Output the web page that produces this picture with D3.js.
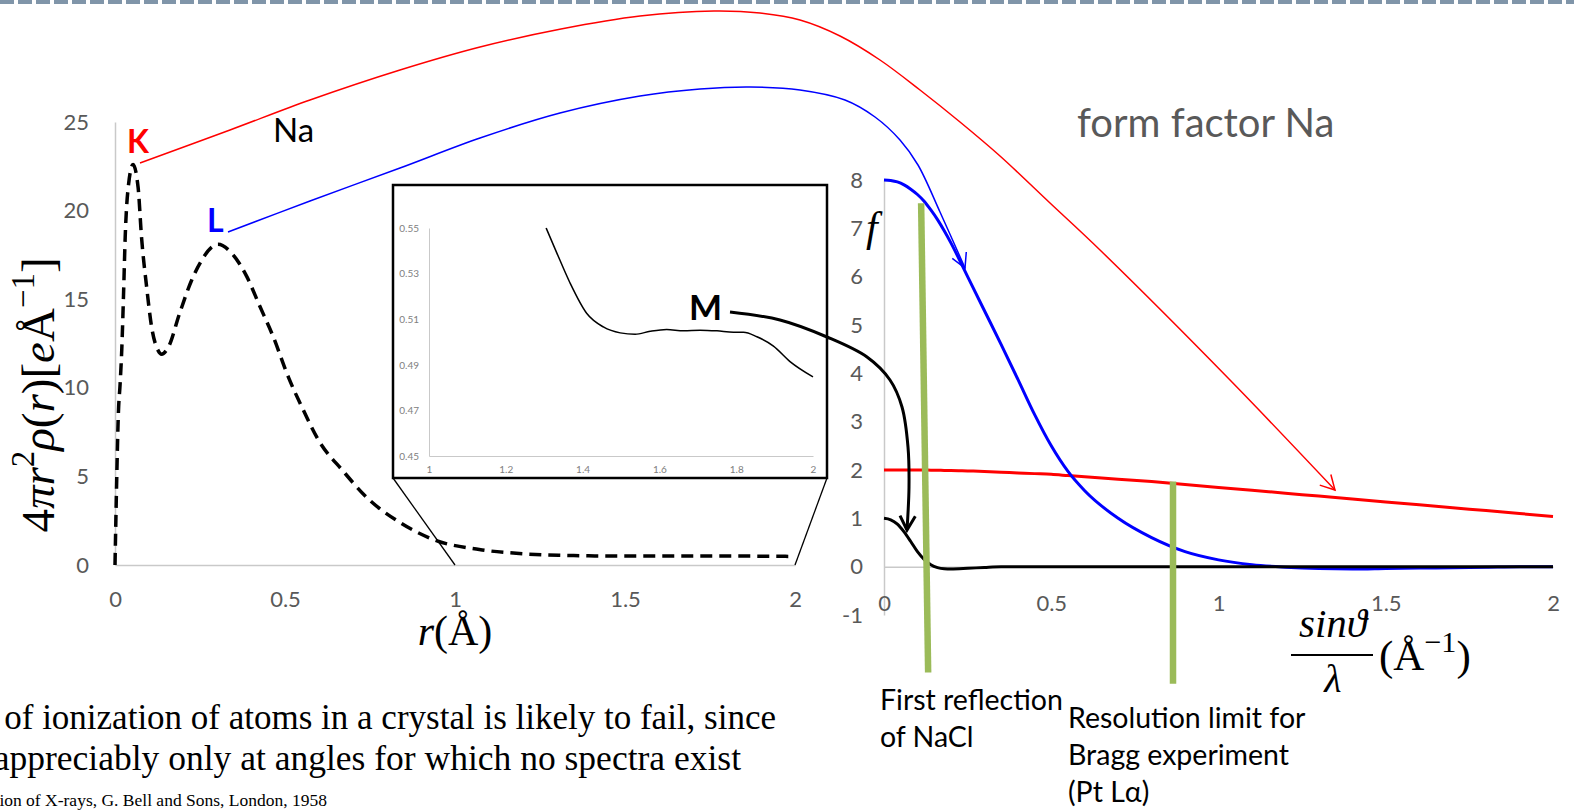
<!DOCTYPE html>
<html>
<head>
<meta charset="utf-8">
<script src="https://cdn.jsdelivr.net/npm/d3@7"></script>
<style>
  html, body { margin: 0; padding: 0; background: #fff; }
  svg { display: block; }
</style>
</head>
<body>
<svg id="chart" width="1574" height="812"></svg>
<script>
// ---------- data ----------
// Radial charge density of Na, 4πr²ρ(r) in e/Å, against r in Å
const radiusR = [0, 0.005, 0.01, 0.015, 0.02, 0.025, 0.03, 0.04, 0.053, 0.068, 0.078, 0.093, 0.108, 0.127,
  0.137, 0.157, 0.19, 0.226, 0.255, 0.289, 0.303, 0.343, 0.387, 0.426, 0.465, 0.51, 0.55, 0.6, 0.671,
  0.741, 0.838, 0.935, 1.08, 1.18, 1.305, 1.333, 1.367, 1.411, 1.454, 1.498, 1.537, 1.576, 1.619, 1.663,
  1.706, 1.75, 1.793, 1.819, 1.854, 1.897, 1.941, 2.0];
const radialDensity = [0, 4.8, 8.6, 10.2, 12.2, 15.2, 18.5, 21.5, 22.6, 21.3, 18.5, 15.7, 13.4, 12.1,
  11.9, 12.3, 14.2, 16.1, 17.2, 18.0, 18.1, 17.6, 16.3, 14.6, 12.9, 10.6, 8.9, 7.0, 5.3,
  3.8, 2.4, 1.45, 0.85, 0.66, 0.55, 0.539, 0.526, 0.5125, 0.5066, 0.504, 0.5034, 0.5047, 0.5055, 0.5049,
  0.5052, 0.5049, 0.5043, 0.5043, 0.5023, 0.4982, 0.4913, 0.4847];

// Shell contributions to the Na form factor against sinθ/λ (1/Å)
const sinThetaOverLambda = [0, 0.02, 0.04, 0.06, 0.08, 0.1, 0.12, 0.14, 0.16, 0.18, 0.2, 0.25, 0.3, 0.35,
  0.4, 0.45, 0.5, 0.55, 0.6, 0.7, 0.8, 0.9, 1.0, 1.1, 1.2, 1.3, 1.4, 1.5, 1.6, 1.7, 1.8, 1.9, 2.0];
const ffShellK = [2.0, 2.0, 2.0, 2.0, 2.0, 2.0, 2.0, 1.995, 1.995, 1.99, 1.99, 1.98, 1.97, 1.955,
  1.94, 1.925, 1.91, 1.885, 1.86, 1.81, 1.76, 1.70, 1.64, 1.58, 1.52, 1.46, 1.40, 1.34, 1.28, 1.22, 1.16, 1.10, 1.04];
const ffShellL = [8.0, 7.99, 7.96, 7.9, 7.81, 7.7, 7.56, 7.38, 7.18, 6.95, 6.7, 6.0, 5.3, 4.6,
  3.88, 3.15, 2.5, 1.97, 1.57, 1.0, 0.6, 0.31, 0.14, 0.04, -0.01, -0.04, -0.05, -0.04, -0.03, -0.02, -0.01, 0, 0];
const ffShellM = [1.0, 0.97, 0.88, 0.72, 0.52, 0.31, 0.15, 0.04, -0.02, -0.045, -0.05, -0.035, -0.015, 0,
  0, 0, 0, 0, 0, 0, 0, 0, 0, 0, 0, 0, 0, 0, 0, 0, 0, 0, 0];

// Reference positions in sinθ/λ: first NaCl reflection and the Pt Lα resolution limit
const markerSinTop = [0.111, 0.864];
const markerSinBottom = [0.132, 0.864];
const markerFTop = [7.52, 1.76];
const markerFBottom = [-2.19, -2.42];
const markerLabels = [["First reflection", "of NaCl"], ["Resolution limit for", "Bragg experiment", "(Pt Lα)"]];

// Tick labels
const densityTicksY = [0, 5, 10, 15, 20, 25];
const densityTicksX = [0, 0.5, 1, 1.5, 2];
const insetTicksY = [0.45, 0.47, 0.49, 0.51, 0.53, 0.55];
const insetTicksX = [1, 1.2, 1.4, 1.6, 1.8, 2];
const ffTicksY = [-1, 0, 1, 2, 3, 4, 5, 6, 7, 8];
const ffTicksX = [0, 0.5, 1, 1.5, 2];

const quoteLines = [
  "of ionization of atoms in a crystal is likely to fail, since",
  "appreciably only at angles for which no spectra exist",
  "Diffraction of X-rays, G. Bell and Sons, London, 1958"
];

// ---------- layout ----------
const svg = d3.select("#chart");
const SANS = "Lato, 'Open Sans', sans-serif";
const SERIF = "'Liberation Serif', 'DejaVu Serif', serif";
const AXIS_GREY = "#c9c9c9";
const LABEL_GREY = "#595959";

const xR = d3.scaleLinear([0, 2], [115, 795]);
const yR = d3.scaleLinear([0, 25], [565, 122]);
const xI = d3.scaleLinear([1, 2], [429, 813]);
const yI = d3.scaleLinear([0.45, 0.55], [456, 228]);
const xS = d3.scaleLinear([0, 2], [884, 1553]);
const yF = d3.scaleLinear([-1, 8], [615, 180]);

// page-level connector paths from shell labels to their form-factor curves
const connectorK = [[140,163],[230,130],[310,100],[400,70],[480,47],[561,29],[640,16],[714,11],[760,13],
  [800,20],[840,36],[880,60],[920,90],[960,122],[1000,156],[1050,203],[1100,250],[1230,380],[1335,490]];
const connectorL = [[228,232],[310,201],[400,168],[480,138],[560,113],[640,96],[700,89],[750,87],[800,90],
  [845,100],[875,117],[900,140],[918,165],[940,212],[965,268]];
const connectorM = [[730,312],[780,320],[827,337],[867,357],[890,380],[902,407],[908,447],[909,487],[907,530]];

svg.append("rect").attr("width", 1574).attr("height", 812).attr("fill", "#fff");

// slide header rule
svg.append("line").attr("x1", 0).attr("x2", 1574).attr("y1", 2).attr("y2", 2)
  .attr("stroke", "#8095a9").attr("stroke-width", 4).attr("stroke-dasharray", "14 4");

function styleAxis(g, size, color) {
  g.select(".domain").attr("stroke", AXIS_GREY).attr("stroke-width", 1.5);
  g.selectAll(".tick line").remove();
  g.selectAll(".tick text").attr("fill", color).attr("font-family", SANS).attr("font-size", size);
}
const fmt = d => String(d);

// ---------- left: radial density ----------
const gLeftY = svg.append("g").attr("transform", `translate(${xR(0)},0)`)
  .call(d3.axisLeft(yR).tickValues(densityTicksY).tickFormat(fmt).tickSize(0).tickPadding(26));
styleAxis(gLeftY, 22, LABEL_GREY);
const gLeftX = svg.append("g").attr("transform", `translate(0,${yR(0)})`)
  .call(d3.axisBottom(xR).tickValues(densityTicksX).tickFormat(fmt).tickSize(0).tickPadding(26));
styleAxis(gLeftX, 22, LABEL_GREY);

const densityPts = radiusR.map((r, i) => [r, radialDensity[i]]);
svg.append("path")
  .attr("d", d3.line().x(d => xR(d[0])).y(d => yR(d[1])).curve(d3.curveMonotoneX)(densityPts))
  .attr("fill", "none").attr("stroke", "#000").attr("stroke-width", 3.5)
  .attr("stroke-dasharray", "12 7");

// rich math text helper
function rich(textSel, parts, size) {
  let shift = 0;
  parts.forEach(p => {
    const t = textSel.append("tspan").text(p.t);
    if (p.i) t.attr("font-style", "italic");
    const target = p.sup ? -0.42 * size : 0;
    if (target !== shift) { t.attr("dy", target - shift); shift = target; }
    if (p.sup) t.attr("font-size", size * 0.7);
  });
}

const yTitle = svg.append("text")
  .attr("transform", "translate(54,395) rotate(-90)")
  .attr("text-anchor", "middle").attr("font-family", SERIF).attr("font-size", 47).attr("fill", "#000");
rich(yTitle, [{t:"4"},{t:"π",i:1},{t:"r",i:1},{t:"2",sup:1},{t:"ρ",i:1},{t:"("},{t:"r",i:1},{t:")["},
  {t:"e",i:1},{t:"Å"},{t:"−1",sup:1},{t:"]"}], 47);

const xTitle = svg.append("text").attr("x", xR(1)).attr("y", 645)
  .attr("text-anchor", "middle").attr("font-family", SERIF).attr("font-size", 42).attr("fill", "#000");
rich(xTitle, [{t:"r",i:1},{t:"(Å)"}], 42);

// ---------- inset: tail of the density, 1–2 Å ----------
svg.append("rect").attr("x", 393).attr("y", 185).attr("width", 434).attr("height", 293)
  .attr("fill", "#fff").attr("stroke", "#000").attr("stroke-width", 2.5);
const gInY = svg.append("g").attr("transform", `translate(${xI(1)},0)`)
  .call(d3.axisLeft(yI).tickValues(insetTicksY).tickFormat(fmt).tickSize(0).tickPadding(10));
styleAxis(gInY, 10, "#808080");
gInY.select(".domain").attr("stroke-width", 1);
const gInX = svg.append("g").attr("transform", `translate(0,${yI(0.45)})`)
  .call(d3.axisBottom(xI).tickValues(insetTicksX).tickFormat(fmt).tickSize(0).tickPadding(10));
styleAxis(gInX, 10, "#808080");
gInX.select(".domain").attr("stroke-width", 1);

const insetPts = densityPts.filter(d => d[0] >= 1 && d[1] <= 0.55);
svg.append("path")
  .attr("d", d3.line().x(d => xI(d[0])).y(d => yI(d[1])).curve(d3.curveMonotoneX)(insetPts))
  .attr("fill", "none").attr("stroke", "#000").attr("stroke-width", 1.5);

// zoom guides from inset corners to the 1–2 Å interval
svg.append("line").attr("x1", 393).attr("y1", 478).attr("x2", xR(1)).attr("y2", yR(0))
  .attr("stroke", "#000").attr("stroke-width", 1.3);
svg.append("line").attr("x1", 827).attr("y1", 478).attr("x2", xR(2)).attr("y2", yR(0))
  .attr("stroke", "#000").attr("stroke-width", 1.3);

// ---------- right: form factor ----------
const gRY = svg.append("g").attr("transform", `translate(${xS(0)},0)`)
  .call(d3.axisLeft(yF).tickValues(ffTicksY).tickFormat(fmt).tickSize(0).tickPadding(21));
styleAxis(gRY, 22, LABEL_GREY);
const gRX = svg.append("g").attr("transform", `translate(0,${yF(0)})`)
  .call(d3.axisBottom(xS).tickValues(ffTicksX).tickFormat(fmt).tickSize(0).tickPadding(29));
styleAxis(gRX, 22, LABEL_GREY);

const ffLine = d3.line().x(d => xS(d[0])).y(d => yF(d[1])).curve(d3.curveMonotoneX);
[[ffShellK, "#ff0000"], [ffShellL, "#0000ff"], [ffShellM, "#000"]].forEach(([vals, col]) => {
  svg.append("path").attr("d", ffLine(sinThetaOverLambda.map((s, i) => [s, vals[i]])))
    .attr("fill", "none").attr("stroke", col).attr("stroke-width", 3);
});

// marker bars
markerSinTop.forEach((s, i) => {
  svg.append("line")
    .attr("x1", xS(s)).attr("y1", yF(markerFTop[i]))
    .attr("x2", xS(markerSinBottom[i])).attr("y2", yF(markerFBottom[i]))
    .attr("stroke", "#9bbb59").attr("stroke-width", 6.5);
});
const markerLabelPos = [[880, 710, 37], [1068, 728, 37]];
markerLabels.forEach((lines, i) => {
  const [x, y, lh] = markerLabelPos[i];
  const t = svg.append("text").attr("font-family", SANS).attr("font-size", 28.5).attr("fill", "#000");
  lines.forEach((ln, j) => t.append("tspan").attr("x", x).attr("y", y + j * lh).text(ln));
});

svg.append("text").attr("x", 866).attr("y", 241).attr("font-family", SERIF)
  .attr("font-style", "italic").attr("font-size", 42).text("f");

// sinθ/λ (Å⁻¹) axis title
svg.append("text").attr("x", 1333).attr("y", 637).attr("text-anchor", "middle")
  .attr("font-family", SERIF).attr("font-style", "italic").attr("font-size", 41).text("sinϑ");
svg.append("line").attr("x1", 1291).attr("x2", 1373).attr("y1", 655).attr("y2", 655)
  .attr("stroke", "#000").attr("stroke-width", 2);
svg.append("text").attr("x", 1333).attr("y", 692).attr("text-anchor", "middle")
  .attr("font-family", SERIF).attr("font-style", "italic").attr("font-size", 40).text("λ");
const unitT = svg.append("text").attr("x", 1379).attr("y", 670)
  .attr("font-family", SERIF).attr("font-size", 43);
rich(unitT, [{t:"(Å"},{t:"−1",sup:1},{t:")"}], 43);

svg.append("text").attr("x", 1077).attr("y", 137).attr("font-family", SANS)
  .attr("font-size", 40).attr("fill", LABEL_GREY).text("form factor Na");

// ---------- shell labels and connectors ----------
svg.append("text").attr("x", 273).attr("y", 142).attr("font-family", SANS).attr("font-size", 33).text("Na");
svg.append("text").attr("x", 127).attr("y", 153).attr("font-family", SANS).attr("font-weight", 700)
  .attr("font-size", 32).attr("fill", "#ff0000").text("K");
svg.append("text").attr("x", 207).attr("y", 232).attr("font-family", SANS).attr("font-weight", 700)
  .attr("font-size", 32).attr("fill", "#0000ff").text("L");
svg.append("text").attr("x", 689).attr("y", 320).attr("font-family", SANS).attr("font-weight", 700)
  .attr("font-size", 35).attr("fill", "#000").text("M");

function connector(pts, color, width, headLen) {
  svg.append("path").attr("d", d3.line().curve(d3.curveCatmullRom)(pts))
    .attr("fill", "none").attr("stroke", color).attr("stroke-width", width);
  const [x1, y1] = pts[pts.length - 2], [x2, y2] = pts[pts.length - 1];
  const a = Math.atan2(y2 - y1, x2 - x1), ang = 0.5;
  const p1 = [x2 - headLen * Math.cos(a - ang), y2 - headLen * Math.sin(a - ang)];
  const p2 = [x2 - headLen * Math.cos(a + ang), y2 - headLen * Math.sin(a + ang)];
  svg.append("path").attr("d", `M${p1[0]},${p1[1]}L${x2},${y2}L${p2[0]},${p2[1]}`)
    .attr("fill", "none").attr("stroke", color).attr("stroke-width", width)
    .attr("stroke-linejoin", "miter");
}
connector(connectorK, "#ff0000", 1.5, 16);
connector(connectorL, "#0000ff", 1.5, 16);
connector(connectorM, "#000", 3, 16);

// ---------- quotation ----------
const quoteEnds = [[776, 729, 35], [741, 770, 35.5], [327, 806, 17.5]];
quoteLines.forEach((ln, i) => {
  const [x, y, fs] = quoteEnds[i];
  svg.append("text").attr("x", x).attr("y", y).attr("text-anchor", "end")
    .attr("font-family", SERIF).attr("font-size", fs).attr("fill", "#000").text(ln);
});
</script>
</body>
</html>
